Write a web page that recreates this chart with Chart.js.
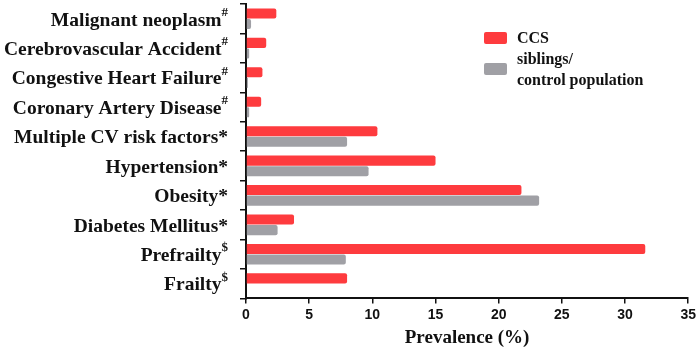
<!DOCTYPE html>
<html>
<head>
<meta charset="utf-8">
<script src="https://cdn.jsdelivr.net/npm/chart.js@4.4.1/dist/chart.umd.min.js"></script>
<style>
  html, body { margin: 0; padding: 0; background: #fff; }
  #wrap { width: 699px; height: 349px; }
</style>
</head>
<body>
<div id="wrap"><canvas id="prevChart"></canvas></div>
<script>
// ── data ──────────────────────────────────────────────
const categories = [
  'Malignant neoplasm', 'Cerebrovascular Accident', 'Congestive Heart Failure',
  'Coronary Artery Disease', 'Multiple CV risk factors', 'Hypertension',
  'Obesity', 'Diabetes Mellitus', 'Prefrailty', 'Frailty'
];
const marks         = ['#', '#', '#', '#', '*', '*', '*', '*', '$', '$'];
const ccsValues     = [2.4, 1.6, 1.3, 1.2, 10.4, 15.0, 21.8, 3.8, 31.6, 8.0];
const controlValues = [0.4, 0.25, 0.15, 0.25, 8.0, 9.7, 23.2, 2.5, 7.9, 0];
const seriesNames   = ['CCS', 'siblings/\ncontrol population'];
const xMin = 0, xMax = 35, xStep = 5;
const axisTitle = 'Prevalence (%)';

const RED  = '#fe3b3e';
const GREY = '#a0a0a5';
const SERIF = '"Liberation Serif", "Times New Roman", serif';

// y labels with superscript marks, drawn at the scale's tick positions
const yLabelPlugin = {
  id: 'yLabels',
  afterDraw(chart) {
    const ctx = chart.ctx, y = chart.scales.y;
    const right = chart.chartArea.left - 18;
    ctx.save();
    ctx.fillStyle = '#111';
    ctx.textBaseline = 'alphabetic';
    ctx.textAlign = 'right';
    categories.forEach((name, i) => {
      const py = y.getPixelForTick(i);
      const m = marks[i];
      if (m === '*') {
        ctx.font = 'bold 19.5px ' + SERIF;
        ctx.fillText(name + '*', right, py + 6.8);
      } else {
        ctx.font = 'bold 13px ' + SERIF;
        const sw = ctx.measureText(m).width;
        ctx.fillText(m, right, py - 3);
        ctx.font = 'bold 19.5px ' + SERIF;
        ctx.fillText(name, right - sw, py + 6.8);
      }
    });
    ctx.restore();
  }
};

// legend block in the upper right of the plot
const legendPlugin = {
  id: 'boxLegend',
  afterDraw(chart) {
    const ctx = chart.ctx;
    const x0 = 484, boxW = 23, boxH = 12;
    const rows = [{ y: 32, color: RED }, { y: 63, color: GREY }];
    ctx.save();
    ctx.font = 'bold 16px ' + SERIF;
    ctx.textBaseline = 'middle';
    ctx.textAlign = 'left';
    rows.forEach((r, i) => {
      ctx.fillStyle = r.color;
      ctx.beginPath();
      ctx.roundRect(x0, r.y, boxW, boxH, 2);
      ctx.fill();
      ctx.fillStyle = '#111';
      const lines = seriesNames[i].split('\n');
      const lh = 21;
      const top = r.y + boxH / 2 - (lines.length - 1) * lh / 2;
      lines.forEach((t, k) => ctx.fillText(t, x0 + 33, top + k * lh + 1));
    });
    ctx.restore();
  }
};

new Chart(document.getElementById('prevChart'), {
  type: 'bar',
  data: {
    labels: categories,
    datasets: [
      {
        label: 'CCS',
        data: ccsValues,
        backgroundColor: RED,
        borderWidth: 0,
        borderRadius: 2,
        borderSkipped: 'start',
        categoryPercentage: 0.72,
        barPercentage: 0.95
      },
      {
        label: 'siblings/control population',
        data: controlValues,
        backgroundColor: GREY,
        borderWidth: 0,
        borderRadius: 2,
        borderSkipped: 'start',
        categoryPercentage: 0.72,
        barPercentage: 0.95
      }
    ]
  },
  options: {
    indexAxis: 'y',
    responsive: true,
    maintainAspectRatio: false,
    animation: false,
    layout: { padding: { left: 240, right: 8, top: 4, bottom: 0 } },
    plugins: { legend: { display: false }, tooltip: { enabled: false } },
    scales: {
      x: {
        min: xMin, max: xMax,
        ticks: {
          stepSize: xStep, color: '#111', padding: 3,
          font: { family: '"Liberation Sans", Arial, sans-serif', weight: 'bold', size: 14 }
        },
        grid: { display: true, drawOnChartArea: false, drawTicks: true, tickLength: 5, color: '#111', lineWidth: 1.5 },
        border: { display: true, color: '#111', width: 2 },
        title: {
          display: true, text: axisTitle, color: '#111', padding: { top: 0, bottom: 0 },
          font: { family: SERIF, weight: 'bold', size: 19 }
        }
      },
      y: {
        ticks: { display: false },
        grid: { display: true, drawOnChartArea: false, drawTicks: true, tickLength: 6, color: '#111', lineWidth: 1.5 },
        border: { display: true, color: '#111', width: 2 }
      }
    }
  },
  plugins: [yLabelPlugin, legendPlugin]
});
</script>
</body>
</html>
